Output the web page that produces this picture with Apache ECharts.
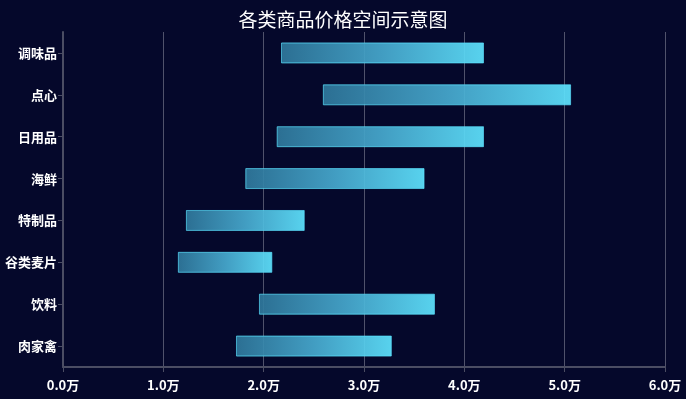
<!DOCTYPE html>
<html>
<head>
<meta charset="utf-8">
<script src="https://cdn.jsdelivr.net/npm/echarts@6/dist/echarts.min.js"></script>
<style>
  html, body { margin: 0; padding: 0; background: #05082b; }
  #chart { width: 686px; height: 399px; }
</style>
</head>
<body>
<div id="chart"></div>
<script>
// 类目(从下到上)
const categories = ['肉家禽', '饮料', '谷类麦片', '特制品', '海鲜', '日用品', '点心', '调味品'];
// 最低价 / 最高价 (元)
const minPrice = [17240, 19530, 11450, 12250, 18170, 21300, 25900, 21730];
const maxPrice = [32770, 37070, 20860, 24090, 36030, 41960, 50640, 41960];
const axisMax = 60000;
const axisStep = 10000;

const chart = echarts.init(document.getElementById('chart'));

const span = maxPrice.map((v, i) => v - minPrice[i]);

const option = {
  backgroundColor: '#05082b',
  title: {
    text: '各类商品价格空间示意图',
    left: 'center',
    top: 5,
    textStyle: {
      color: '#fff',
      fontSize: 19,
      fontWeight: 'normal',
      fontFamily: 'Noto Sans CJK SC'
    }
  },
  grid: {
    left: 63,
    right: 21,
    top: 32,
    bottom: 32
  },
  xAxis: {
    type: 'value',
    min: 0,
    max: axisMax,
    interval: axisStep,
    axisLine: {
      show: true,
      lineStyle: { color: '#4b4d63', width: 2 }
    },
    axisTick: {
      show: true,
      lineStyle: { color: '#4b4d63' }
    },
    axisLabel: {
      color: '#fff',
      fontSize: 13,
      fontWeight: 'bold',
      margin: 12,
      fontFamily: 'Noto Sans CJK SC',
      formatter: function (v) {
        return (v / 10000).toFixed(1) + '万';
      }
    },
    splitLine: {
      show: true,
      lineStyle: { color: 'rgba(255,255,255,0.3)' }
    }
  },
  yAxis: {
    type: 'category',
    data: categories,
    axisLine: {
      show: true,
      lineStyle: { color: '#4b4d63', width: 2 }
    },
    axisTick: {
      show: true,
      alignWithLabel: true,
      lineStyle: { color: '#4b4d63' }
    },
    axisLabel: {
      color: '#fff',
      fontSize: 13,
      fontWeight: 'bold',
      margin: 6,
      padding: [3, 0, 0, 0],
      fontFamily: 'Noto Sans CJK SC'
    }
  },
  series: [
    {
      type: 'bar',
      stack: 'price',
      data: minPrice,
      barWidth: '50%',
      itemStyle: { color: 'transparent' },
      silent: true
    },
    {
      type: 'bar',
      stack: 'price',
      data: span,
      barWidth: '50%',
      itemStyle: {
        opacity: 0.92,
        color: new echarts.graphic.LinearGradient(0, 0, 1, 0, [
          { offset: 0, color: '#2f789c' },
          { offset: 0.5, color: '#47aacf' },
          { offset: 1, color: '#5fe4ff' }
        ]),
        borderWidth: 1,
        borderColor: 'rgba(92,225,255,0.45)'
      }
    }
  ]
};

chart.setOption(option);
</script>
</body>
</html>
